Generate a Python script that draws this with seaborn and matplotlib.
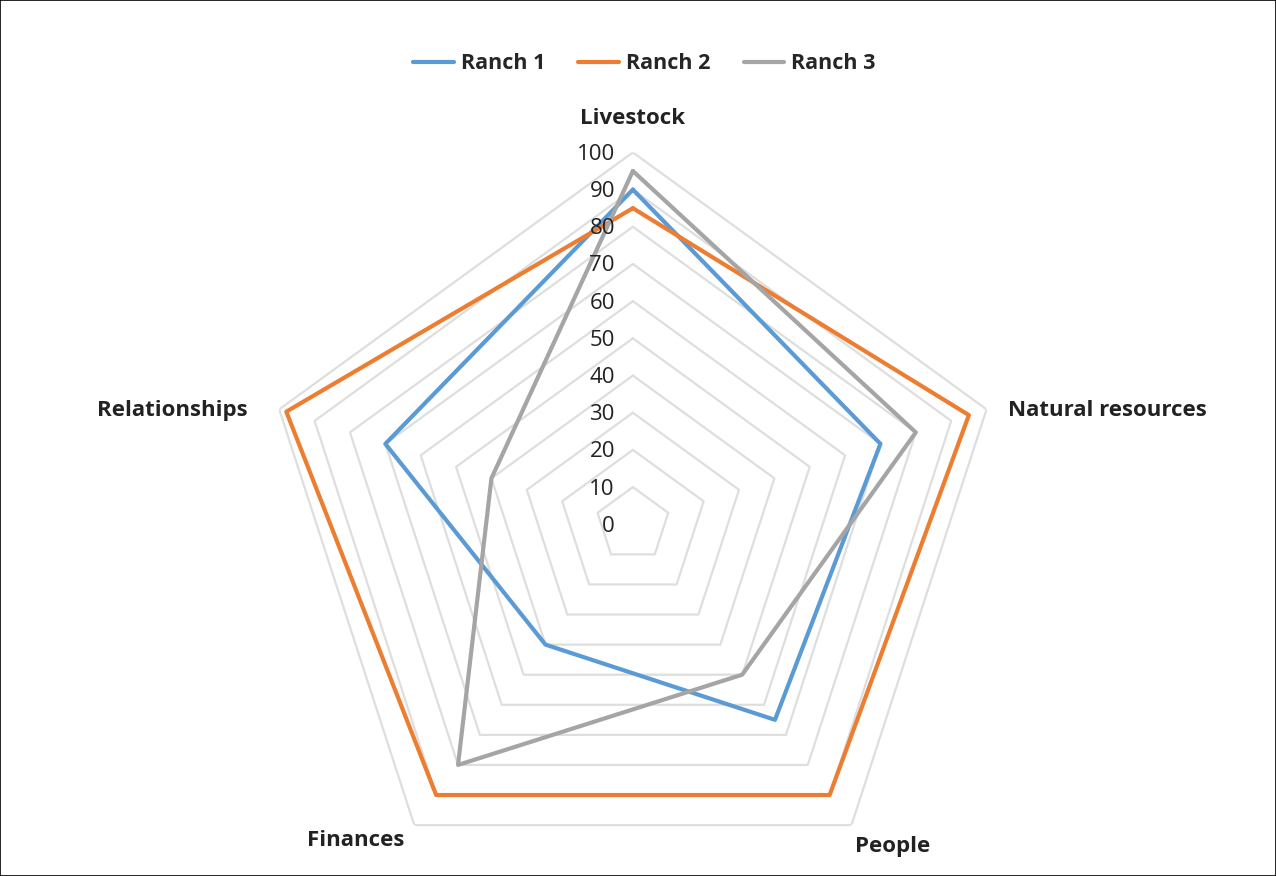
import numpy as np
import pandas as pd
import seaborn as sns
import matplotlib
matplotlib.use("Agg")
from matplotlib import pyplot as plt
from matplotlib import transforms
from matplotlib.patches import Rectangle

categories = ["Livestock", "Natural resources", "People", "Finances", "Relationships"]
ranch_1 = [90, 70, 65, 40, 70]
ranch_2 = [85, 95, 90, 90, 98]
ranch_3 = [95, 80, 50, 80, 40]
series_names = ["Ranch 1", "Ranch 2", "Ranch 3"]
levels = list(range(10, 101, 10))
colors = ["#5B9BD5", "#ED7D31", "#A5A5A5"]

sns.set_style("white")
plt.rcParams["font.family"] = ["Open Sans", "DejaVu Sans"]

angles = np.linspace(0, 2 * np.pi, len(categories), endpoint=False)
angles_closed = np.append(angles, 2 * np.pi)

rows = []
for name, vals in zip(series_names, [ranch_1, ranch_2, ranch_3]):
    vv = vals + [vals[0]]
    for a, v in zip(angles_closed, vv):
        rows.append({"Ranch": name, "angle": a, "value": v})
df = pd.DataFrame(rows)

fig = plt.figure(figsize=(12.76, 8.76), dpi=100)
ax = fig.add_axes([0.2045, -0.023, 0.583, 0.849], projection="polar")
ax.set_theta_offset(np.pi / 2)
ax.set_theta_direction(-1)

# pentagon gridlines
for lev in levels:
    ax.plot(angles_closed, [lev] * len(angles_closed), color="#DEDEDE", lw=1.6, zorder=1)

sns.lineplot(data=df, x="angle", y="value", hue="Ranch", palette=colors,
             sort=False, estimator=None, units="Ranch", lw=3.0, ax=ax, zorder=3)

ax.set_ylim(0, 100)
ax.grid(False)
ax.spines["polar"].set_visible(False)
ax.set_xticks([])
ax.set_yticks([])
ax.set_xlabel("")
ax.set_ylabel("")

# radial labels
off = transforms.offset_copy(ax.transData, fig=fig, x=-18, y=-2, units="dots")
for lev in [0] + levels:
    ax.text(0, lev, str(lev), transform=off, ha="right", va="center",
            fontsize=16, color="#222222")

# category labels (angle in degrees, radius, alignment)
label_pos = [
    (0.0, 109.0, "center"),
    (73.1, 105.4, "left"),
    (141.1, 111.3, "center"),
    (221.3, 113.1, "center"),
    (286.4, 107.9, "right"),
]
for cat, (deg, r, ha) in zip(categories, label_pos):
    ax.text(np.deg2rad(deg), r, cat, ha=ha, va="center", fontsize=16,
            fontweight="bold", color="#222222")

handles, labels = ax.get_legend_handles_labels()
ax.get_legend().remove()
fig.legend(handles, labels, loc="center", bbox_to_anchor=(0.505, 0.927), ncol=3,
           frameon=False, prop={"size": 15.5, "weight": "bold"},
           handlelength=1.9, columnspacing=1.55, handletextpad=0.3)

fig.patches.append(Rectangle((0, 0), 1, 1, transform=fig.transFigure,
                             fill=False, edgecolor="black", lw=1.2))

plt.savefig("out.png", dpi=100)
plt.close()
